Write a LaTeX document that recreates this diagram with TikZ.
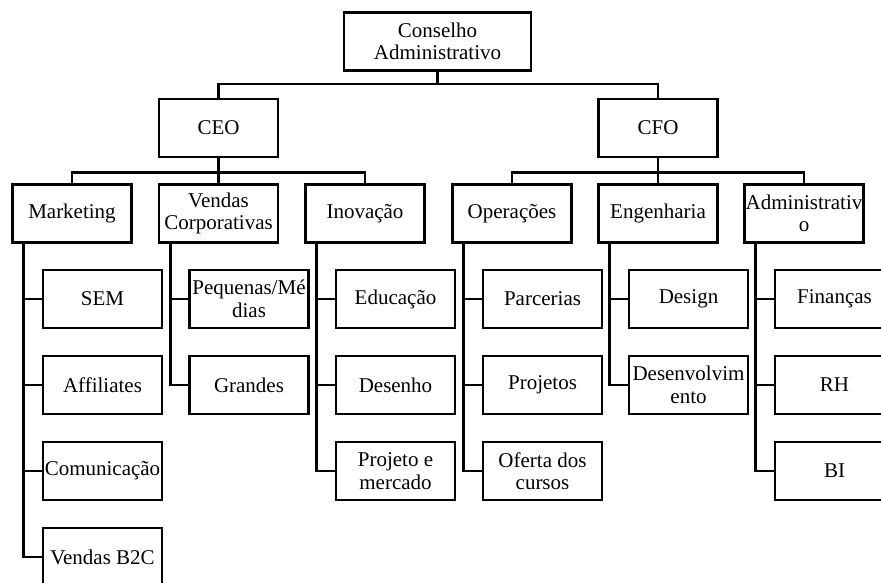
\documentclass[tikz,border=0pt]{standalone}
\usepackage{fontspec}
\setmainfont{Liberation Serif}
\begin{document}
\begin{tikzpicture}[x=1pt, y=1pt, line width=2.8pt, node distance=86pt]
	\tikzstyle{box} = [draw, minimum width=119pt, minimum height=58pt, inner sep=1pt, align=center, font=\fontsize{21}{22.5}\selectfont];
	\clip (0,0) rectangle (881,-582);

	% top of the chart
	\node[box, minimum width=187pt] (cons) at (437.5,-41.5) {Conselho\\Administrativo};
	\node[box] (ceo) at (218.5,-128) {CEO};
	\node[box] (cfo) at (658,-128) {CFO};

	% departments
	\node[box] (mkt) at (72,-213.5) {Marketing};
	\node[box] (vend) at (218.5,-213.5) {Vendas\\Corporativas};
	\node[box] (inov) at (365,-213.5) {Inovação};
	\node[box] (oper) at (512,-213.5) {Operações};
	\node[box] (eng) at (658,-213.5) {Engenharia};
	\node[box] (adm) at (804,-213.5) {Administrativ\\o};

	% Marketing
	\node[box, below of=mkt, xshift=30.5pt, yshift=0.5pt] (sem) {SEM};
	\node[box, below of=sem] (aff) {Affiliates};
	\node[box, below of=aff] (com) {Comunicação};
	\node[box, below of=com] (b2c) {Vendas B2C};
	% Vendas Corporativas
	\node[box, below of=vend, xshift=30.5pt, yshift=0.5pt] (pme) {Pequenas/Mé\\dias};
	\node[box, below of=pme] (grandes) {Grandes};
	% Inovacao
	\node[box, below of=inov, xshift=30.5pt, yshift=0.5pt] (edu) {Educação};
	\node[box, below of=edu] (des) {Desenho};
	\node[box, below of=des] (projm) {Projeto e\\mercado};
	% Operacoes
	\node[box, below of=oper, xshift=30.5pt, yshift=0.5pt] (parc) {Parcerias};
	\node[box, below of=parc] (proj) {Projetos};
	\node[box, below of=proj] (ofer) {Oferta dos\\cursos};
	% Engenharia
	\node[box, below of=eng, xshift=30.5pt, yshift=0.5pt] (design) {Design};
	\node[box, below of=design] (desenv) {Desenvolvim\\ento};
	% Administrativo
	\node[box, below of=adm, xshift=30.5pt, yshift=0.5pt] (fin) {Finanças};
	\node[box, below of=fin] (rh) {RH};
	\node[box, below of=rh] (bi) {BI};

	% connections
	\draw (cons.south) -- ++(0,-12) coordinate (topbar);
	\draw (topbar) -| (ceo.north);
	\draw (topbar) -| (cfo.north);

	\draw (ceo.south) -- ++(0,-14) coordinate (ceobar);
	\draw (ceobar) -| (mkt.north);
	\draw (ceo.south) -- (vend.north);
	\draw (ceobar) -| (inov.north);

	\draw (cfo.south) -- ++(0,-14) coordinate (cfobar);
	\draw (cfobar) -| (oper.north);
	\draw (cfo.south) -- (eng.north);
	\draw (cfobar) -| (adm.north);

	\draw ([xshift=12.5pt]mkt.south west) |- (sem.west);
	\draw ([xshift=12.5pt]mkt.south west) |- (aff.west);
	\draw ([xshift=12.5pt]mkt.south west) |- (com.west);
	\draw ([xshift=12.5pt]mkt.south west) |- (b2c.west);

	\draw ([xshift=12.5pt]vend.south west) |- (pme.west);
	\draw ([xshift=12.5pt]vend.south west) |- (grandes.west);

	\draw ([xshift=12.5pt]inov.south west) |- (edu.west);
	\draw ([xshift=12.5pt]inov.south west) |- (des.west);
	\draw ([xshift=12.5pt]inov.south west) |- (projm.west);

	\draw ([xshift=12.5pt]oper.south west) |- (parc.west);
	\draw ([xshift=12.5pt]oper.south west) |- (proj.west);
	\draw ([xshift=12.5pt]oper.south west) |- (ofer.west);

	\draw ([xshift=12.5pt]eng.south west) |- (design.west);
	\draw ([xshift=12.5pt]eng.south west) |- (desenv.west);

	\draw ([xshift=12.5pt]adm.south west) |- (fin.west);
	\draw ([xshift=12.5pt]adm.south west) |- (rh.west);
	\draw ([xshift=12.5pt]adm.south west) |- (bi.west);
\end{tikzpicture}
\end{document}
